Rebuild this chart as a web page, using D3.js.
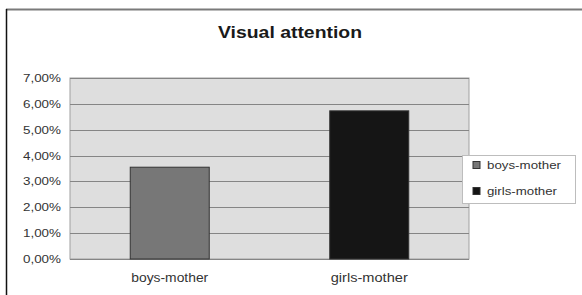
<!DOCTYPE html>
<meta charset="utf-8">
<head>
  <title>Visual attention</title>
</head>

<style>
body {
  margin: 0;
  background: #fff;
  font-family: Arial, "Liberation Sans", sans-serif;
}
</style>

<body>
  <div id="content"></div>

  <script src="https://cdnjs.cloudflare.com/ajax/libs/d3/7.8.5/d3.min.js"></script>

  <script>
// data
var categories = ['boys-mother', 'girls-mother'];
var values = [0.0355, 0.0573];
var tickValues = [0, 0.01, 0.02, 0.03, 0.04, 0.05, 0.06, 0.07];
var barColors = ['#777777', '#151515'];

var width = 582, height = 295;

var svg = d3.select('#content').append('svg')
  .attr('width', width)
  .attr('height', height);

// outer frame (only top and left show)
svg.append('line')
  .attr('x1', 6).attr('x2', width).attr('y1', 9.5).attr('y2', 9.5)
  .attr('stroke', '#7a7a7a').attr('stroke-width', 2);
svg.append('line')
  .attr('x1', 6.5).attr('x2', 6.5).attr('y1', 9).attr('y2', height)
  .attr('stroke', '#111').attr('stroke-width', 1.5);

// title
svg.append('text')
  .attr('x', 290).attr('y', 38)
  .attr('text-anchor', 'middle')
  .attr('font-size', 17)
  .attr('font-weight', 'bold')
  .attr('fill', '#1a1a1a')
  .attr('textLength', 144)
  .attr('lengthAdjust', 'spacingAndGlyphs')
  .text('Visual attention');

var plot = {left: 70, right: 469, top: 78, bottom: 259};

var x = d3.scaleBand()
  .domain(categories)
  .range([plot.left, plot.right])
  .paddingInner(0.604)
  .paddingOuter(0.302);

var y = d3.scaleLinear()
  .domain([0, 0.07])
  .range([plot.bottom, plot.top]);

// plot background
svg.append('rect')
  .attr('x', plot.left).attr('y', plot.top)
  .attr('width', plot.right - plot.left)
  .attr('height', plot.bottom - plot.top)
  .attr('fill', '#dedede')
  .attr('stroke', '#a0a0a0');

// gridlines
svg.append('g')
  .selectAll('line')
  .data(tickValues)
  .join('line')
  .attr('x1', plot.left).attr('x2', plot.right)
  .attr('y1', d => Math.round(y(d)) + 0.5)
  .attr('y2', d => Math.round(y(d)) + 0.5)
  .attr('stroke', '#858585');

// y axis labels
var fmt = d => d3.format('.2f')(d * 100).replace('.', ',') + '%';
var yAxis = d3.axisLeft(y)
  .tickValues(tickValues)
  .tickFormat(fmt)
  .tickSize(0)
  .tickPadding(9);

var ya = svg.append('g')
  .attr('transform', 'translate(' + plot.left + ',0)')
  .call(yAxis);
ya.select('.domain').remove();
ya.selectAll('text')
  .attr('font-size', 11)
  .attr('font-family', 'Arial, "Liberation Sans", sans-serif')
  .attr('fill', '#333')
  .attr('textLength', 38)
  .attr('lengthAdjust', 'spacingAndGlyphs');

// bars
svg.append('g')
  .selectAll('rect')
  .data(values)
  .join('rect')
  .attr('x', (d, i) => x(categories[i]))
  .attr('y', d => y(d))
  .attr('width', x.bandwidth())
  .attr('height', d => y(0) - y(d))
  .attr('fill', (d, i) => barColors[i])
  .attr('stroke', '#333');

// x axis labels
var xAxis = d3.axisBottom(x).tickSize(0).tickPadding(14);
var xa = svg.append('g')
  .attr('transform', 'translate(0,' + plot.bottom + ')')
  .call(xAxis);
xa.select('.domain').remove();
xa.selectAll('text')
  .attr('font-size', 12)
  .attr('font-family', 'Arial, "Liberation Sans", sans-serif')
  .attr('fill', '#333')
  .attr('textLength', 77)
  .attr('lengthAdjust', 'spacingAndGlyphs');

// legend
var legend = svg.append('g');
legend.append('rect')
  .attr('x', 462.5).attr('y', 155.5)
  .attr('width', 113).attr('height', 48)
  .attr('fill', '#fff')
  .attr('stroke', '#bdbdbd');

var items = legend.selectAll('g.item')
  .data(categories)
  .join('g')
  .attr('class', 'item')
  .attr('transform', (d, i) => 'translate(473,' + (165 + i * 26) + ')');

items.append('rect')
  .attr('x', 0).attr('y', -3.5)
  .attr('width', 7).attr('height', 7)
  .attr('fill', (d, i) => barColors[i])
  .attr('stroke', '#333');

items.append('text')
  .attr('x', 14).attr('y', 4)
  .attr('font-size', 11.5)
  .attr('fill', '#333')
  .attr('textLength', (d, i) => i == 0 ? 74 : 70)
  .attr('lengthAdjust', 'spacingAndGlyphs')
  .text(d => d);
  </script>
</body>
</html>
